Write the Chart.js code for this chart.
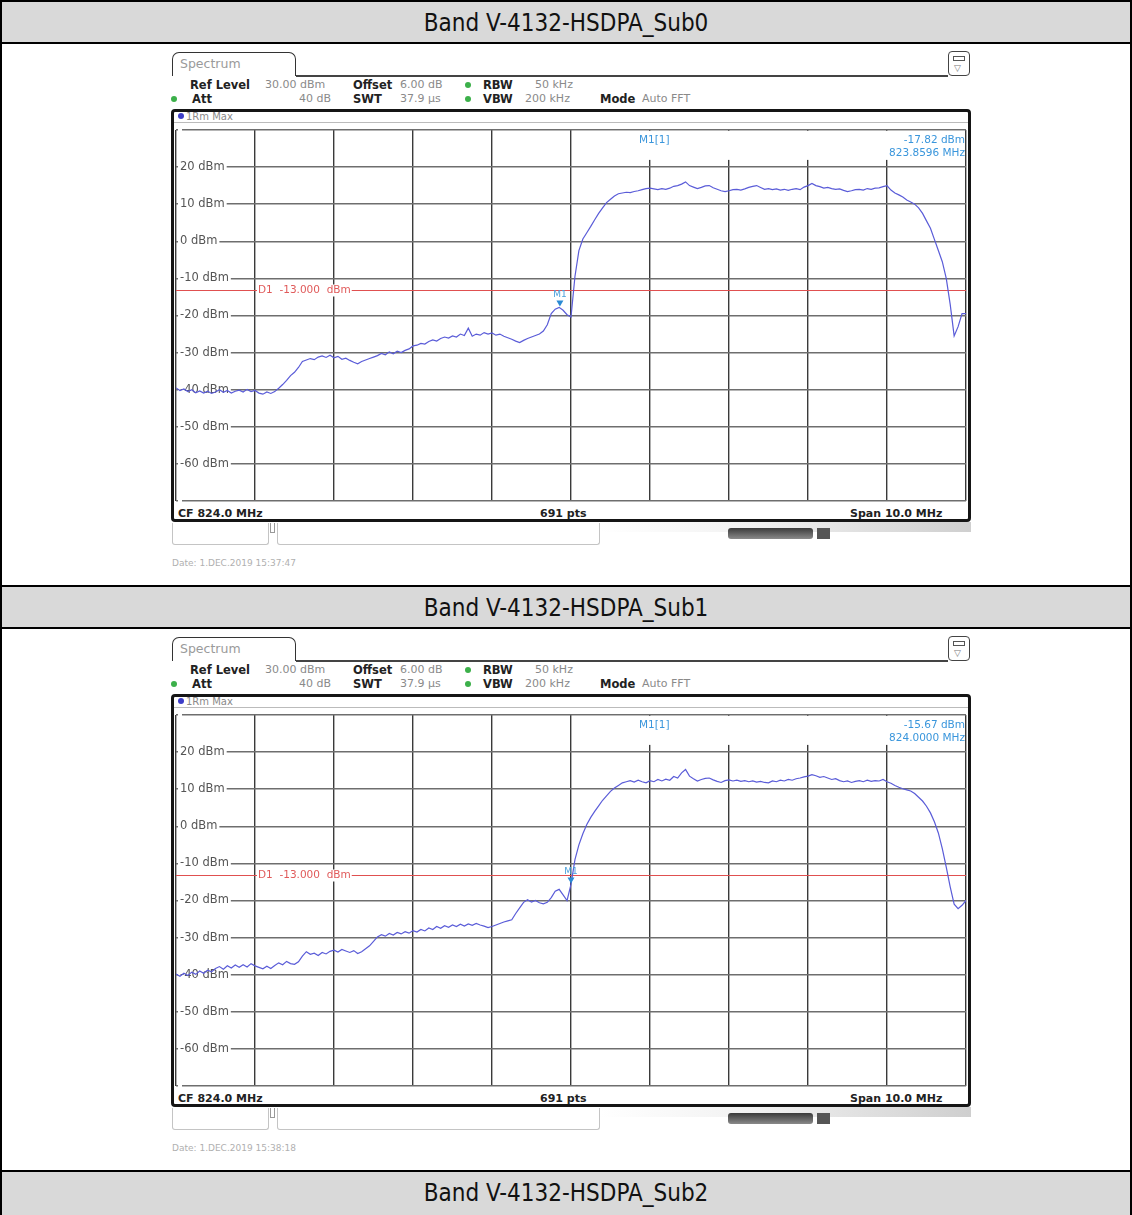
<!DOCTYPE html>
<html>
<head>
<meta charset="utf-8">
<script src="https://cdn.jsdelivr.net/npm/chart.js@4.4.1/dist/chart.umd.min.js"></script>
<style>
html, body { margin: 0; padding: 0; background: #fff; }
body { width: 1132px; height: 1215px; position: relative; overflow: hidden; font-family: 'DejaVu Sans', sans-serif; }
.abs { position: absolute; }
.line { position: absolute; background: #000; }
.band { position: absolute; left: 0; width: 1132px; background: #d9d9d9; }
.title { position: absolute; left: 0; width: 1132px; text-align: center; font-family: 'Liberation Sans Narrow', 'DejaVu Sans Condensed', sans-serif; font-size: 24px; color: #111; line-height: 40px; }
.t { position: absolute; white-space: nowrap; line-height: 14px; }
.b { font-weight: bold; color: #222; font-size: 11.5px; }
.g { color: #8a8a8a; font-size: 11px; }
.dot { position: absolute; width: 6px; height: 6px; border-radius: 3px; background: #3cb04a; }
canvas { position: absolute; }
</style>
</head>
<body>
<div id="page"></div>
<script>
// sweep settings (from the analyzer header)
const cfMHz = 824.0;
const spanMHz = 10.0;
const sweepPoints = 201;
const freqMHz = Array.from({ length: sweepPoints }, (_, i) => +(cfMHz - spanMHz / 2 + i * spanMHz / (sweepPoints - 1)).toFixed(2));

// y axis
const refLevel = 30;
const bottomLevel = -70;
const levelTicks = [20, 10, 0, -10, -20, -30, -40, -50, -60];
const d1Level = -13;

// traces (dBm, one value every 0.05 MHz)
const sub0Level = [
  -39.5, -40.2, -39.8, -40.5, -40.0, -40.8, -40.3, -40.9, -40.4, -41.0,
  -40.6, -40.0, -40.7, -40.2, -40.9, -40.4, -40.1, -40.6, -39.9, -40.5,
  -40.2, -40.9, -41.2, -40.6, -41.0, -40.5, -39.6, -38.6, -37.5, -36.2,
  -35.3, -34.0, -32.4, -32.0, -31.6, -31.9, -31.2, -30.9, -31.3, -30.7,
  -31.4, -31.0, -31.8, -31.5, -32.1, -32.6, -33.0, -32.4, -32.0, -31.6,
  -31.2, -30.8, -30.2, -30.6, -29.8, -30.3, -29.6, -30.0, -29.4, -29.0,
  -28.2, -28.0, -27.5, -27.7, -27.0, -26.6, -26.9, -26.2, -25.8, -26.1,
  -25.5, -25.8, -25.0, -25.4, -23.4, -25.6, -25.0, -25.3, -24.6, -25.0,
  -24.7, -25.3, -25.0, -25.6, -26.0, -26.4, -26.9, -27.3, -26.7, -26.2,
  -25.8, -25.4, -25.0, -24.2, -22.5, -19.5, -18.3, -17.8, -18.6, -19.8,
  -20.4, -9.5, -2.5, 0.6, 2.3, 4.0, 5.8, 7.5, 9.0, 10.4,
  11.3, 12.2, 12.8, 13.0, 13.2, 13.1, 13.4, 13.6, 13.9, 14.2,
  14.3, 14.1, 13.9, 14.2, 14.0, 14.3, 14.8, 15.0, 15.4, 16.0,
  15.0, 14.6, 14.2, 14.5, 14.9, 15.0, 14.4, 14.0, 13.6, 13.4,
  13.6, 13.9, 14.0, 13.8, 14.1, 14.5, 14.8, 15.0, 14.5, 14.0,
  14.2, 13.9, 14.1, 13.8, 14.0, 13.7, 14.0, 14.2, 13.9, 14.6,
  15.0, 15.6, 15.0, 14.7, 14.3, 14.5, 14.2, 14.0, 14.1, 13.7,
  13.4, 13.6, 13.9, 14.0, 13.8, 14.2, 14.0, 14.3, 14.4, 14.7,
  15.0, 13.8, 13.0, 12.5, 11.9, 11.1, 10.6, 10.0, 9.0, 7.5,
  5.5, 3.5, 0.5, -2.5, -5.5, -10.0, -17.0, -25.5, -23.0, -19.5,
  -19.5
];
const sub1Level = [
  -39.8, -40.4, -39.6, -40.2, -39.3, -39.9, -39.0, -39.6, -38.8, -39.2,
  -38.3, -37.8, -38.5, -37.6, -38.2, -37.4, -38.0, -37.3, -37.9, -37.0,
  -37.6, -38.0, -38.4, -37.7, -38.3, -37.5, -36.8, -37.3, -36.4, -37.0,
  -37.2, -36.5, -35.0, -33.8, -34.5, -34.2, -34.8, -34.0, -34.4, -33.7,
  -33.4, -33.9, -33.2, -33.6, -34.0, -33.5, -34.3, -33.8, -33.0, -32.2,
  -31.0, -29.8, -29.2, -29.6, -28.9, -29.3, -28.6, -29.0, -28.4, -28.8,
  -28.1, -28.5, -27.8, -28.2, -27.4, -27.8, -27.0, -27.5, -26.8, -27.2,
  -26.6, -27.0, -26.4, -26.9, -26.3, -26.7, -26.2, -26.6, -26.9, -27.3,
  -27.0, -26.6, -26.2, -25.8, -25.5, -25.2, -23.5, -22.0, -20.5, -19.8,
  -20.4, -20.0, -20.6, -20.9, -20.5, -19.2, -17.5, -17.0, -18.5, -20.0,
  -15.67, -9.0, -5.0, -2.0, 0.5, 2.4, 4.0, 5.5, 7.0, 8.2,
  9.4, 10.3, 11.0, 11.7, 12.0, 12.3, 11.9, 12.4, 12.0, 11.7,
  12.3, 12.0, 12.6, 12.2, 12.7, 12.4, 13.4, 13.0, 14.4, 15.3,
  13.5, 12.8, 12.2, 12.6, 12.9, 13.0, 12.5, 12.1, 11.8, 12.3,
  12.5, 12.2, 12.4, 12.1, 12.3, 12.0, 12.2, 11.9, 12.1, 11.8,
  11.7, 12.2, 12.0, 12.4, 12.2, 12.6, 12.4, 12.8, 13.0, 13.3,
  13.5, 13.9, 13.6, 13.2, 13.4, 13.0, 12.6, 12.8, 12.3, 12.0,
  12.2, 11.8, 12.1, 12.3, 12.0, 12.4, 12.1, 12.3, 12.2, 12.6,
  12.0, 11.6, 11.0, 10.5, 10.1, 9.8, 9.5, 8.8, 7.8, 6.8,
  5.4, 3.6, 1.2, -1.8, -6.0, -11.0, -16.3, -21.0, -22.2, -21.3,
  -20.0
];

// M1 marker per screenshot
const markerFreq = [823.8596, 824.0];
const markerLevel = [-17.82, -15.67];
const markerFreqText = ['823.8596 MHz', '824.0000 MHz'];

const sectionTitles = ['Band V-4132-HSDPA_Sub0', 'Band V-4132-HSDPA_Sub1', 'Band V-4132-HSDPA_Sub2'];
const dateStamps = ['Date: 1.DEC.2019  15:37:47', 'Date: 1.DEC.2019  15:38:18'];

const page = document.getElementById('page');

function put(cls, style, text) {
    const el = document.createElement('div');
    el.className = cls;
    Object.assign(el.style, style);
    if (text !== undefined) el.textContent = text;
    page.appendChild(el);
    return el;
}

// table frame
[[2, 40], [587, 40], [1172, 45]].forEach(([top, h], i) => {
    put('band', { top: top + 'px', height: h + 'px' });
    put('title', { top: (top + 1) + 'px' }, sectionTitles[i]);
});
[0, 42, 585, 627, 1170].forEach(y => put('line', { left: '0px', top: y + 'px', width: '1132px', height: '2px' }));
put('line', { left: '0px', top: '0px', width: '2px', height: '1215px' });
put('line', { left: '1130px', top: '0px', width: '2px', height: '1215px' });

function text(x, y, cls, str, extra) {
    return put('t ' + cls, Object.assign({ left: x + 'px', top: (y - 7) + 'px' }, extra || {}), str);
}

function buildPanel(dy, idx) {
    // tab + top rule
    put('abs', { left: '172px', top: (52 + dy) + 'px', width: '124px', height: '24px', border: '1.5px solid #333', borderBottom: 'none', borderRadius: '7px 7px 0 0', boxSizing: 'border-box' });
    text(180, 64 + dy, '', 'Spectrum', { color: '#9a9a9a', fontSize: '12.5px' });
    put('line', { left: '296px', top: (75 + dy) + 'px', width: '652px', height: '1.5px', background: '#444' });
    put('abs', { left: '948px', top: (51 + dy) + 'px', width: '22px', height: '25px', border: '1.5px solid #444', borderRadius: '4px', boxSizing: 'border-box' });
    put('abs', { left: '953px', top: (56 + dy) + 'px', width: '12px', height: '5px', border: '1.5px solid #555', boxSizing: 'border-box' });
    text(954, 68 + dy, '', '\u25BD', { color: '#777', fontSize: '9px' });

    // header parameters
    text(190, 85 + dy, 'b', 'Ref Level');
    text(265, 85 + dy, 'g', '30.00 dBm');
    text(353, 85 + dy, 'b', 'Offset');
    text(400, 85 + dy, 'g', '6.00 dB');
    put('dot', { left: '465px', top: (82 + dy) + 'px' });
    text(483, 85 + dy, 'b', 'RBW');
    text(535, 85 + dy, 'g', '50 kHz');
    put('dot', { left: '171px', top: (96 + dy) + 'px' });
    text(192, 99 + dy, 'b', 'Att');
    text(299, 99 + dy, 'g', '40 dB');
    text(353, 99 + dy, 'b', 'SWT');
    text(400, 99 + dy, 'g', '37.9 \u00B5s');
    put('dot', { left: '465px', top: (96 + dy) + 'px' });
    text(483, 99 + dy, 'b', 'VBW');
    text(525, 99 + dy, 'g', '200 kHz');
    text(600, 99 + dy, 'b', 'Mode');
    text(642, 99 + dy, 'g', 'Auto FFT');

    // display frame
    put('abs', { left: '171px', top: (109 + dy) + 'px', width: '800px', height: '413px', border: '3px solid #151515', borderRadius: '4px', boxSizing: 'border-box' });
    put('abs', { left: '178px', top: (113 + dy) + 'px', width: '6px', height: '6px', borderRadius: '3px', background: '#3d3dc8' });
    text(186, 117 + dy, 'g', '1Rm Max', { fontSize: '10px' });
    put('line', { left: '174px', top: (122 + dy) + 'px', width: '794px', height: '1px', background: '#bbb' });

    // footer
    text(178, 514 + dy, 'b', 'CF 824.0 MHz', { fontSize: '11px' });
    text(540, 514 + dy, 'b', '691 pts', { fontSize: '11px' });
    text(850, 514 + dy, 'b', 'Span 10.0 MHz', { fontSize: '11px' });

    // strip under the display
    put('abs', { left: '172px', top: (523 + dy) + 'px', width: '97px', height: '22px', border: '1px solid #c4c4c4', borderTop: 'none', borderRadius: '0 0 3px 3px', boxSizing: 'border-box' });
    put('abs', { left: '270px', top: (523 + dy) + 'px', width: '5px', height: '10px', border: '1px solid #999', borderTop: 'none', boxSizing: 'border-box' });
    put('abs', { left: '277px', top: (523 + dy) + 'px', width: '323px', height: '22px', border: '1px solid #c4c4c4', borderTop: 'none', borderRadius: '0 0 3px 3px', boxSizing: 'border-box' });
    put('abs', { left: '600px', top: (522 + dy) + 'px', width: '371px', height: '10px', background: 'linear-gradient(90deg, #fff 0%, #f2f2f2 40%, #cfcfcf 100%)' });
    put('abs', { left: '728px', top: (528 + dy) + 'px', width: '85px', height: '11px', borderRadius: '3px', background: 'linear-gradient(#3a3a3a, #8a8a8a)' });
    put('abs', { left: '817px', top: (528 + dy) + 'px', width: '13px', height: '11px', background: '#555' });

    text(172, 563 + dy, '', dateStamps[idx], { color: '#b0b0b0', fontSize: '9px' });

    const cv = document.createElement('canvas');
    cv.id = 'spec' + idx;
    cv.width = 802; cv.height = 393;
    cv.style.left = '170px';
    cv.style.top = (119 + dy) + 'px';
    page.appendChild(cv);
    return cv;
}

// marker box, D1 line and M1 marker
const analyzerOverlay = {
    id: 'analyzerOverlay',
    beforeDatasetsDraw(chart) {
        const { ctx, chartArea: a, scales: { x, y } } = chart;
        const k = chart.options.plugins.analyzerOverlay.idx;
        ctx.save();
        // marker info field hides the top of the grid
        ctx.fillStyle = '#fff';
        ctx.fillRect(x.getPixelForValue(824) + 1.5, a.top + 1, a.right - x.getPixelForValue(824) - 2.5, 29);
        ctx.fillStyle = '#3a96dc';
        ctx.font = '10.5px "DejaVu Sans"';
        ctx.textBaseline = 'middle';
        ctx.textAlign = 'left';
        ctx.fillText('M1[1]', a.left + 463, a.top + 10);
        ctx.textAlign = 'right';
        ctx.fillText(markerLevel[k].toFixed(2) + ' dBm', a.right - 1, a.top + 10);
        ctx.fillText(markerFreqText[k], a.right - 1, a.top + 23);

        // D1 display line
        const yd = Math.round(y.getPixelForValue(d1Level)) + 0.5;
        ctx.strokeStyle = '#e05050';
        ctx.lineWidth = 1.2;
        ctx.beginPath();
        ctx.moveTo(a.left, yd);
        ctx.lineTo(a.right, yd);
        ctx.stroke();
        ctx.font = '10.5px "DejaVu Sans"';
        ctx.textAlign = 'left';
        const lbl = 'D1  -13.000  dBm';
        const lx = x.getPixelForValue(820) + 3;
        const w = ctx.measureText(lbl).width;
        ctx.fillStyle = '#fff';
        ctx.fillRect(lx - 1, yd - 6, w + 2, 12);
        ctx.fillStyle = '#e05a5a';
        ctx.fillText(lbl, lx, yd);
        ctx.restore();
    },
    afterDatasetsDraw(chart) {
        const { ctx, scales: { x, y } } = chart;
        const k = chart.options.plugins.analyzerOverlay.idx;
        const mx = x.getPixelForValue(markerFreq[k]);
        const my = y.getPixelForValue(markerLevel[k]);
        ctx.save();
        ctx.fillStyle = '#2a8ad4';
        ctx.beginPath();
        ctx.moveTo(mx - 3.5, my - 7);
        ctx.lineTo(mx + 3.5, my - 7);
        ctx.lineTo(mx, my - 1);
        ctx.closePath();
        ctx.fill();
        ctx.font = '9px "DejaVu Sans"';
        ctx.textAlign = 'center';
        ctx.textBaseline = 'bottom';
        ctx.fillStyle = '#4aa0dc';
        ctx.fillText('M1', mx, my - 8);
        ctx.restore();
    }
};

function renderSpectrum(cv, levels, idx) {
    return new Chart(cv.getContext('2d'), {
        type: 'line',
        data: {
            datasets: [{
                data: freqMHz.map((f, i) => ({ x: f, y: levels[i] })),
                borderColor: '#5a5cd8',
                borderWidth: 1.2,
                pointRadius: 0,
                tension: 0,
                fill: false
            }]
        },
        options: {
            responsive: false,
            animation: false,
            devicePixelRatio: 1,
            layout: { padding: 6 },
            plugins: { legend: { display: false }, tooltip: { enabled: false }, analyzerOverlay: { idx } },
            scales: {
                x: {
                    type: 'linear',
                    min: cfMHz - spanMHz / 2,
                    max: cfMHz + spanMHz / 2,
                    afterFit: s => { s.height = 0; },
                    ticks: { display: false, stepSize: 1 },
                    border: { display: false },
                    grid: { color: '#3a3a3a', lineWidth: 1.4, drawTicks: false }
                },
                y: {
                    min: bottomLevel,
                    max: refLevel,
                    afterFit: s => { s.width = 0; },
                    border: { display: false },
                    grid: { color: '#6e6e6e', lineWidth: 1.4, drawTicks: false },
                    ticks: {
                        stepSize: 10,
                        mirror: true,
                        padding: 4,
                        color: '#555',
                        font: { family: 'DejaVu Sans', size: 11.5 },
                        showLabelBackdrop: true,
                        backdropColor: '#fff',
                        backdropPadding: { x: 2, y: 0 },
                        callback: v => levelTicks.includes(v) ? v + ' dBm' : ''
                    }
                }
            }
        },
        plugins: [analyzerOverlay]
    });
}

const cv0 = buildPanel(0, 0);
const cv1 = buildPanel(585, 1);
renderSpectrum(cv0, sub0Level, 0);
renderSpectrum(cv1, sub1Level, 1);
</script>
</body>
</html>
